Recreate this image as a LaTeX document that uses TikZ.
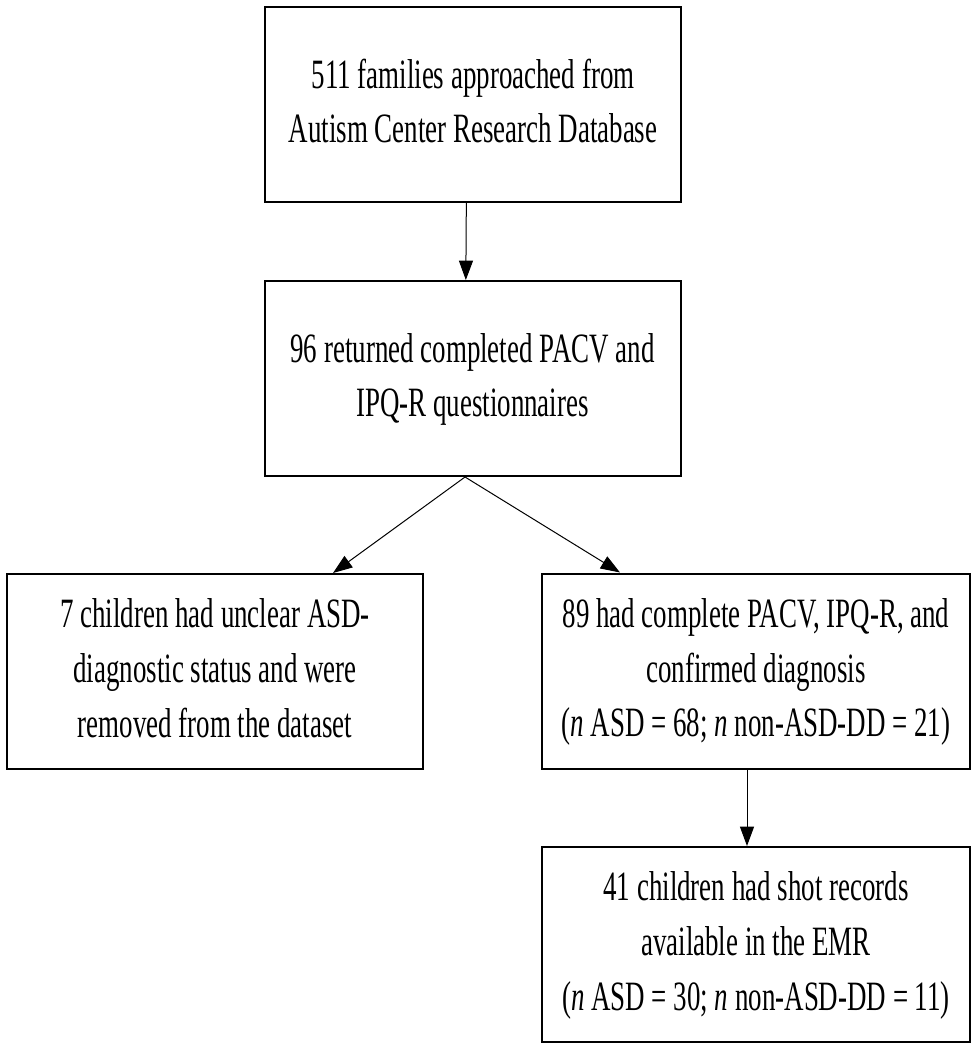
\documentclass[tikz,border=0pt]{standalone}
\usepackage{fontspec}
\setmainfont{Liberation Serif}
\usepackage{graphicx}
\usetikzlibrary{arrows.meta}

\newcommand{\boxtext}[1]{\scalebox{1}[1.55]{\fontsize{20.2}{26.6}\selectfont\begin{tabular}{@{}c@{}}#1\end{tabular}}}

\begin{document}
\begin{tikzpicture}[x=0.75pt,y=0.75pt,yscale=-1,xscale=1,
  flowbox/.style={draw, line width=1.5pt, minimum width=#1, minimum height=146.25pt, inner sep=0pt},
  flowbox/.default=312pt,
  flowarrow/.style={-{Triangle[length=14.5pt,width=10.5pt]}, line width=0.75pt}]
\useasboundingbox (0,0) rectangle (978,1050);

%Shape: Rectangle [approached]
\node[flowbox] (approached) at (473,104.5) {\boxtext{511 families approached from\\Autism Center Research Database}};
%Shape: Rectangle [returned]
\node[flowbox] (returned) at (472.5,378.5) {\boxtext{96 returned completed PACV and\\IPQ-R questionnaires}};
%Shape: Rectangle [unclear]
\node[flowbox] (unclear) at (215,671.5) {\boxtext{7 children had unclear ASD-\\diagnostic status and were\\removed from the dataset}};
%Shape: Rectangle [confirmed]
\node[flowbox=321pt] (confirmed) at (756,671) {\boxtext{89 had complete PACV, IPQ-R, and\\confirmed diagnosis\\(\textit{n} ASD = 68; \textit{n} non-ASD-DD = 21)}};
%Shape: Rectangle [records]
\node[flowbox=321pt] (records) at (756,944.5) {\boxtext{41 children had shot records\\available in the EMR\\(\textit{n} ASD = 30; \textit{n} non-ASD-DD = 11)}};

%Straight Lines
\draw[flowarrow] ([xshift=-5pt]approached.south) -- ([xshift=-5pt]returned.north);
\draw[flowarrow] ([xshift=-5.6pt]returned.south) -- ([xshift=88.5pt]unclear.north);
\draw[flowarrow] ([xshift=-5.6pt]returned.south) -- ([xshift=-102pt]confirmed.north);
\draw[flowarrow] ([xshift=-6.75pt]confirmed.south) -- ([xshift=-6.75pt]records.north);

\end{tikzpicture}
\end{document}
